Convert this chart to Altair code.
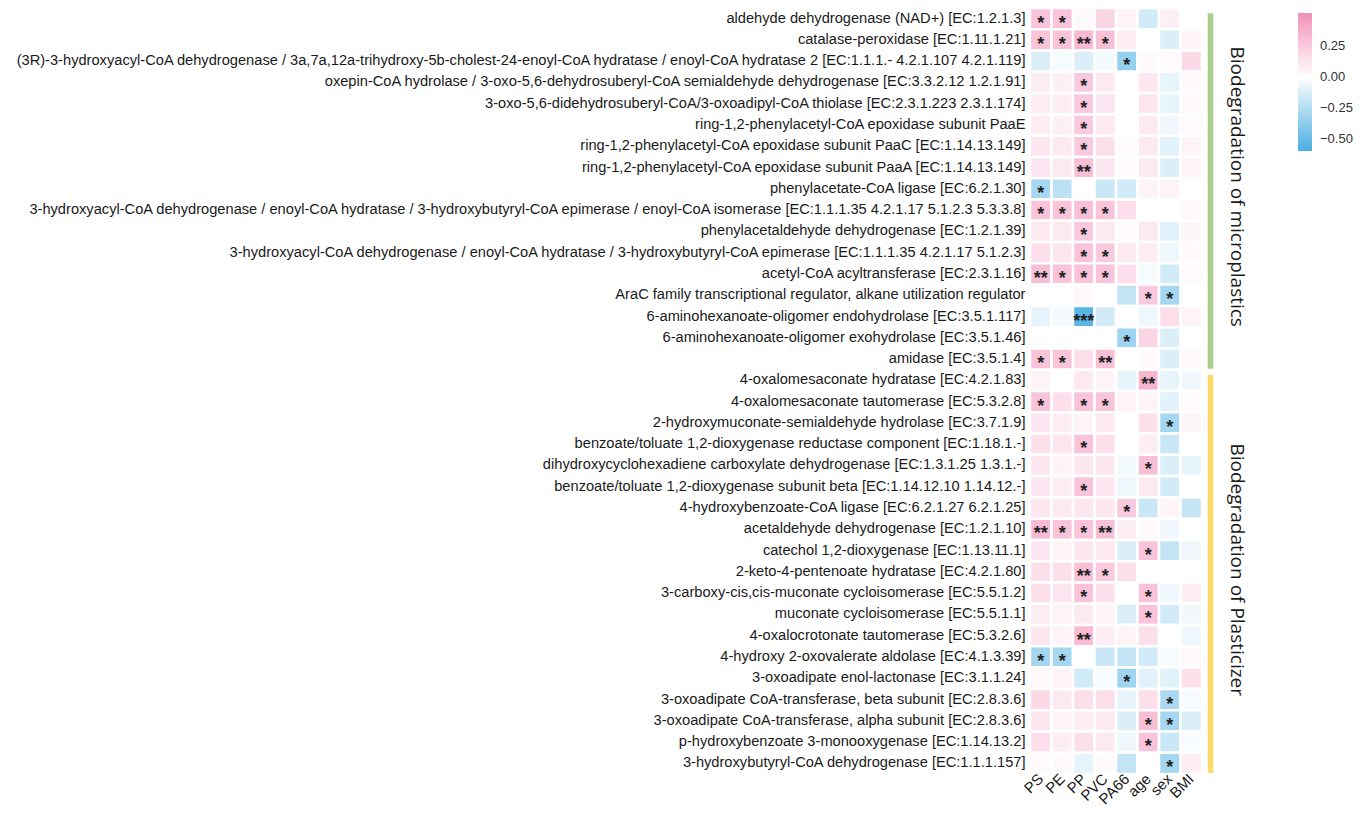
import altair as alt
import pandas as pd

rows = [
    "aldehyde dehydrogenase (NAD+) [EC:1.2.1.3]",
    "catalase-peroxidase [EC:1.11.1.21]",
    "(3R)-3-hydroxyacyl-CoA dehydrogenase / 3a,7a,12a-trihydroxy-5b-cholest-24-enoyl-CoA hydratase / enoyl-CoA hydratase 2 [EC:1.1.1.- 4.2.1.107 4.2.1.119]",
    "oxepin-CoA hydrolase / 3-oxo-5,6-dehydrosuberyl-CoA semialdehyde dehydrogenase [EC:3.3.2.12 1.2.1.91]",
    "3-oxo-5,6-didehydrosuberyl-CoA/3-oxoadipyl-CoA thiolase [EC:2.3.1.223 2.3.1.174]",
    "ring-1,2-phenylacetyl-CoA epoxidase subunit PaaE",
    "ring-1,2-phenylacetyl-CoA epoxidase subunit PaaC [EC:1.14.13.149]",
    "ring-1,2-phenylacetyl-CoA epoxidase subunit PaaA [EC:1.14.13.149]",
    "phenylacetate-CoA ligase [EC:6.2.1.30]",
    "3-hydroxyacyl-CoA dehydrogenase / enoyl-CoA hydratase / 3-hydroxybutyryl-CoA epimerase / enoyl-CoA isomerase [EC:1.1.1.35 4.2.1.17 5.1.2.3 5.3.3.8]",
    "phenylacetaldehyde dehydrogenase [EC:1.2.1.39]",
    "3-hydroxyacyl-CoA dehydrogenase / enoyl-CoA hydratase / 3-hydroxybutyryl-CoA epimerase [EC:1.1.1.35 4.2.1.17 5.1.2.3]",
    "acetyl-CoA acyltransferase [EC:2.3.1.16]",
    "AraC family transcriptional regulator, alkane utilization regulator",
    "6-aminohexanoate-oligomer endohydrolase [EC:3.5.1.117]",
    "6-aminohexanoate-oligomer exohydrolase [EC:3.5.1.46]",
    "amidase [EC:3.5.1.4]",
    "4-oxalomesaconate hydratase [EC:4.2.1.83]",
    "4-oxalomesaconate tautomerase [EC:5.3.2.8]",
    "2-hydroxymuconate-semialdehyde hydrolase [EC:3.7.1.9]",
    "benzoate/toluate 1,2-dioxygenase reductase component [EC:1.18.1.-]",
    "dihydroxycyclohexadiene carboxylate dehydrogenase [EC:1.3.1.25 1.3.1.-]",
    "benzoate/toluate 1,2-dioxygenase subunit beta [EC:1.14.12.10 1.14.12.-]",
    "4-hydroxybenzoate-CoA ligase [EC:6.2.1.27 6.2.1.25]",
    "acetaldehyde dehydrogenase [EC:1.2.1.10]",
    "catechol 1,2-dioxygenase [EC:1.13.11.1]",
    "2-keto-4-pentenoate hydratase [EC:4.2.1.80]",
    "3-carboxy-cis,cis-muconate cycloisomerase [EC:5.5.1.2]",
    "muconate cycloisomerase [EC:5.5.1.1]",
    "4-oxalocrotonate tautomerase [EC:5.3.2.6]",
    "4-hydroxy 2-oxovalerate aldolase [EC:4.1.3.39]",
    "3-oxoadipate enol-lactonase [EC:3.1.1.24]",
    "3-oxoadipate CoA-transferase, beta subunit [EC:2.8.3.6]",
    "3-oxoadipate CoA-transferase, alpha subunit [EC:2.8.3.6]",
    "p-hydroxybenzoate 3-monooxygenase [EC:1.14.13.2]",
    "3-hydroxybutyryl-CoA dehydrogenase [EC:1.1.1.157]",
]

cols = ["PS", "PE", "PP", "PVC", "PA66", "age", "sex", "BMI"]

v_PS = [0.28, 0.28, -0.12, 0.08, 0.08, 0.08, 0.12, 0.12, -0.30, 0.28, 0.10, 0.15, 0.30, 0.00, -0.08, 0.00, 0.28,
        0.05, 0.28, 0.12, 0.15, 0.12, 0.12, 0.12, 0.32, 0.12, 0.15, 0.15, 0.08, 0.12, -0.30, 0.03, 0.18, 0.12, 0.15, 0.02]
v_PE = [0.28, 0.28, -0.03, 0.07, 0.08, 0.07, 0.10, 0.10, -0.22, 0.28, 0.10, 0.12, 0.28, 0.00, -0.04, 0.00, 0.28,
        0.00, 0.15, 0.08, 0.12, 0.05, 0.08, 0.10, 0.28, 0.05, 0.15, 0.12, 0.05, 0.05, -0.30, 0.05, 0.10, 0.05, 0.08, 0.03]
v_PP = [0.03, 0.33, -0.12, 0.25, 0.25, 0.25, 0.25, 0.30, 0.00, 0.30, 0.25, 0.28, 0.28, 0.03, -0.55, 0.00, 0.15,
        0.10, 0.28, 0.05, 0.28, 0.12, 0.28, 0.12, 0.28, 0.12, 0.30, 0.28, 0.10, 0.32, 0.00, -0.15, 0.15, 0.08, 0.15, -0.08]
v_PVC = [0.20, 0.30, -0.04, 0.10, 0.12, 0.10, 0.15, 0.12, -0.18, 0.28, 0.10, 0.25, 0.28, 0.00, -0.15, 0.00, 0.30,
         0.05, 0.28, 0.10, 0.15, 0.12, 0.12, 0.12, 0.30, 0.10, 0.25, 0.15, 0.05, 0.08, -0.18, -0.03, 0.15, 0.10, 0.10, 0.02]
v_PA66 = [0.05, 0.08, -0.35, 0.00, 0.00, 0.00, 0.02, 0.02, -0.15, 0.15, 0.02, 0.10, 0.15, -0.20, 0.00, -0.32, 0.00,
          -0.08, 0.05, 0.00, 0.00, -0.04, -0.06, 0.25, 0.08, -0.12, 0.15, 0.00, -0.12, 0.05, -0.20, -0.32, -0.08, -0.12, -0.06, -0.20]
v_age = [-0.15, 0.00, 0.03, 0.12, 0.12, 0.10, 0.10, 0.10, 0.05, 0.00, 0.10, 0.08, -0.03, 0.25, -0.06, 0.20, 0.03,
         0.35, 0.05, 0.15, 0.08, 0.30, 0.10, -0.18, 0.03, 0.28, 0.00, 0.28, 0.28, 0.15, -0.15, -0.10, 0.15, 0.30, 0.28, 0.00]
v_sex = [0.07, -0.12, 0.02, -0.08, -0.08, -0.05, -0.10, -0.12, 0.05, 0.00, -0.10, -0.06, -0.15, -0.30, 0.15, -0.12, -0.12,
         -0.08, -0.10, -0.30, -0.18, -0.12, -0.15, 0.05, -0.05, -0.20, 0.00, -0.05, -0.15, 0.00, -0.03, -0.10, -0.28, -0.30, -0.18, -0.30]
v_BMI = [0.00, 0.05, 0.18, 0.03, 0.03, 0.02, 0.05, 0.05, 0.00, 0.03, 0.04, 0.03, 0.02, 0.00, 0.05, 0.00, 0.03,
         -0.05, 0.02, 0.04, 0.00, -0.08, 0.00, -0.20, 0.00, -0.05, 0.00, 0.08, -0.05, -0.05, 0.03, 0.15, -0.03, -0.12, -0.02, 0.08]

# significance marks: (row index, stars)
s_PS = [(0, "*"), (1, "*"), (8, "*"), (9, "*"), (12, "**"), (16, "*"), (18, "*"), (24, "**"), (30, "*")]
s_PE = [(0, "*"), (1, "*"), (9, "*"), (12, "*"), (16, "*"), (24, "*"), (30, "*")]
s_PP = [(1, "**"), (3, "*"), (4, "*"), (5, "*"), (6, "*"), (7, "**"), (9, "*"), (10, "*"), (11, "*"), (12, "*"),
        (14, "***"), (18, "*"), (20, "*"), (22, "*"), (24, "*"), (26, "**"), (27, "*"), (29, "**")]
s_PVC = [(1, "*"), (9, "*"), (11, "*"), (12, "*"), (16, "**"), (18, "*"), (24, "**"), (26, "*")]
s_PA66 = [(2, "*"), (15, "*"), (23, "*"), (31, "*")]
s_age = [(13, "*"), (17, "**"), (21, "*"), (25, "*"), (27, "*"), (28, "*"), (33, "*"), (34, "*")]
s_sex = [(13, "*"), (19, "*"), (32, "*"), (33, "*"), (35, "*")]
s_BMI = []

groups = ["Biodegradation of microplastics", "Biodegradation of Plasticizer"]
group_first = [0, 17]
group_last = [16, 35]
group_colors = ["#A9D08E", "#FFD966"]

values = dict(PS=v_PS, PE=v_PE, PP=v_PP, PVC=v_PVC, PA66=v_PA66, age=v_age, sex=v_sex, BMI=v_BMI)
stars = dict(PS=s_PS, PE=s_PE, PP=s_PP, PVC=s_PVC, PA66=s_PA66, age=s_age, sex=s_sex, BMI=s_BMI)

cells = pd.DataFrame(
    [{"row": rows[i], "col": c, "value": values[c][i]} for c in cols for i in range(len(rows))]
)
marks = pd.DataFrame(
    [{"row": rows[i], "col": c, "sig": s} for c in cols for (i, s) in stars[c]]
)
grp = pd.DataFrame({
    "group": groups,
    "y0": [f + 0.25 for f in group_first],
    "y1": [l + 0.95 for l in group_last],
    "mid": [(f + l + 0.8) / 2 for f, l in zip(group_first, group_last)],
    "color": group_colors,
})

W = 172
H = 766
n = len(rows)

xenc = alt.X("col:N", sort=cols, title=None,
             axis=alt.Axis(orient="bottom", labelAngle=-45, labelAlign="right", labelBaseline="middle",
                           labelFontSize=15, labelFont="Liberation Sans", labelColor="#1a1a1a",
                           domain=False, ticks=False, labelPadding=2))

heat = alt.Chart(cells).mark_rect(stroke="white", strokeWidth=2.5).encode(
    x=xenc,
    y=alt.Y("row:N", sort=rows, title=None,
            axis=alt.Axis(labelFontSize=14.65, labelFont="Liberation Sans", labelColor="#1a1a1a",
                          domain=False, ticks=False, labelPadding=5, labelLimit=0)),
    color=alt.Color("value:Q", title=None,
                    scale=alt.Scale(domain=[-0.6, 0, 0.52], range=["#4AAEE2", "#FFFFFF", "#F391B8"],
                                    interpolate="rgb"),
                    legend=alt.Legend(orient="none", legendX=268, legendY=5, direction="vertical",
                                      gradientLength=138, gradientThickness=14,
                                      values=[0.25, 0, -0.25, -0.5], format=".2f",
                                      labelFontSize=13, labelFont="Liberation Sans", labelColor="#333333",
                                      labelOffset=8, gradientStrokeWidth=0)),
)

sig = alt.Chart(marks).mark_text(fontSize=18, fontWeight="bold", font="Liberation Sans", color="#222222",
                                 baseline="middle", dy=5).encode(
    x=alt.X("col:N", sort=cols),
    y=alt.Y("row:N", sort=rows, axis=None),
    text="sig:N",
)

bars = alt.Chart(grp).mark_rule(strokeWidth=5.5).encode(
    x=alt.value(W + 8.5),
    y=alt.Y("y0:Q", scale=alt.Scale(domain=[0, n], reverse=True), axis=None),
    y2="y1:Q",
    color=alt.Color("color:N", scale=None),
)

gtext = alt.Chart(grp).mark_text(angle=90, fontSize=19, font="Open Sans", color="#1a1a1a",
                                 baseline="middle", align="center").encode(
    x=alt.value(W + 35),
    y=alt.Y("mid:Q", scale=alt.Scale(domain=[0, n], reverse=True), axis=None),
    text="group:N",
)

chart = alt.layer(heat, sig, bars, gtext).resolve_scale(y="independent", color="independent").properties(
    width=W, height=H,
    autosize=alt.AutoSizeParams(type="none"),
    padding={"left": 1022, "top": 0, "right": 155, "bottom": 40},
).configure_view(stroke=None)

chart.save("out.html", embed_options={"renderer": "svg", "actions": False})
